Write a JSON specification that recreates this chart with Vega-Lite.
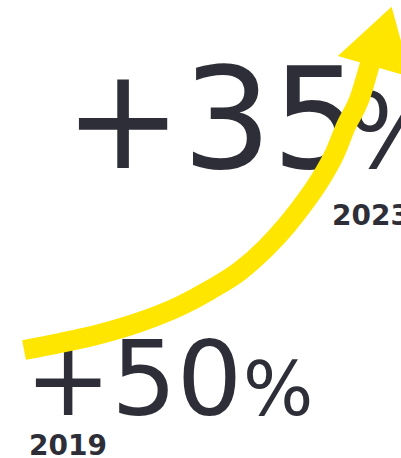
{
  "$schema": "https://vega.github.io/schema/vega-lite/v6.json",
  "width": 401,
  "height": 458,
  "padding": 0,
  "autosize": {"type": "none"},
  "background": "white",
  "config": {"view": {"stroke": null}},
  "datasets": {
    "labels": [
      {"year": "2023", "part": "value", "text": "+35", "x": 15.96, "y": 63.32},
      {"year": "2023", "part": "unit", "text": "%", "x": 86.53, "y": 63.32},
      {"year": "2023", "part": "year", "text": "2023", "x": 82.79, "y": 50.87},
      {"year": "2019", "part": "value", "text": "+50", "x": 6.23, "y": 9.39},
      {"year": "2019", "part": "unit", "text": "%", "x": 60.6, "y": 9.39},
      {"year": "2019", "part": "year", "text": "2019", "x": 7.23, "y": 0.66}
    ],
    "curve": [
      {"x": 5.99, "y": 23.58},
      {"x": 14.96, "y": 25.11},
      {"x": 24.94, "y": 27.07},
      {"x": 34.91, "y": 29.69},
      {"x": 44.89, "y": 33.19},
      {"x": 52.37, "y": 36.68},
      {"x": 59.85, "y": 40.83},
      {"x": 66.08, "y": 45.63},
      {"x": 71.57, "y": 50.87},
      {"x": 76.06, "y": 55.9},
      {"x": 79.8, "y": 60.7},
      {"x": 83.54, "y": 66.59},
      {"x": 86.28, "y": 72.49},
      {"x": 89.53, "y": 78.17},
      {"x": 92.52, "y": 86.9}
    ],
    "head": [
      {"x": 95.51, "y": 92.01}
    ]
  },
  "encoding": {
    "x": {"field": "x", "type": "quantitative", "axis": null, "scale": {"domain": [0, 100], "nice": false, "zero": false}},
    "y": {"field": "y", "type": "quantitative", "axis": null, "scale": {"domain": [0, 100], "nice": false, "zero": false}}
  },
  "layer": [
    {
      "data": {"name": "labels"},
      "transform": [{"filter": "datum.part === 'value' && datum.year === '2023'"}],
      "mark": {"type": "text", "align": "left", "baseline": "alphabetic", "font": "DejaVu Sans", "fontSize": 141, "color": "#2E2E38"},
      "encoding": {"text": {"field": "text"}}
    },
    {
      "data": {"name": "labels"},
      "transform": [{"filter": "datum.part === 'unit' && datum.year === '2023'"}],
      "mark": {"type": "text", "align": "left", "baseline": "alphabetic", "font": "DejaVu Sans", "fontSize": 103, "color": "#2E2E38"},
      "encoding": {"text": {"field": "text"}}
    },
    {
      "data": {"name": "labels"},
      "transform": [{"filter": "datum.part === 'value' && datum.year === '2019'"}],
      "mark": {"type": "text", "align": "left", "baseline": "alphabetic", "font": "DejaVu Sans", "fontSize": 103, "color": "#2E2E38"},
      "encoding": {"text": {"field": "text"}}
    },
    {
      "data": {"name": "labels"},
      "transform": [{"filter": "datum.part === 'unit' && datum.year === '2019'"}],
      "mark": {"type": "text", "align": "left", "baseline": "alphabetic", "font": "DejaVu Sans", "fontSize": 74, "color": "#2E2E38"},
      "encoding": {"text": {"field": "text"}}
    },
    {
      "data": {"name": "labels"},
      "transform": [{"filter": "datum.part === 'year'"}],
      "mark": {"type": "text", "align": "left", "baseline": "alphabetic", "font": "DejaVu Sans", "fontSize": 28, "fontWeight": "bold", "color": "#2E2E38"},
      "encoding": {"text": {"field": "text"}}
    },
    {
      "data": {"name": "curve"},
      "mark": {"type": "line", "interpolate": "monotone", "strokeWidth": 20, "strokeCap": "butt", "color": "#FFE600"},
      "encoding": {}
    },
    {
      "data": {"name": "head"},
      "mark": {"type": "point", "shape": "M0,-0.82L1,0.82L-1,0.82Z", "size": 5776, "angle": 16, "filled": true, "opacity": 1, "strokeWidth": 0, "color": "#FFE600"},
      "encoding": {}
    }
  ]
}
